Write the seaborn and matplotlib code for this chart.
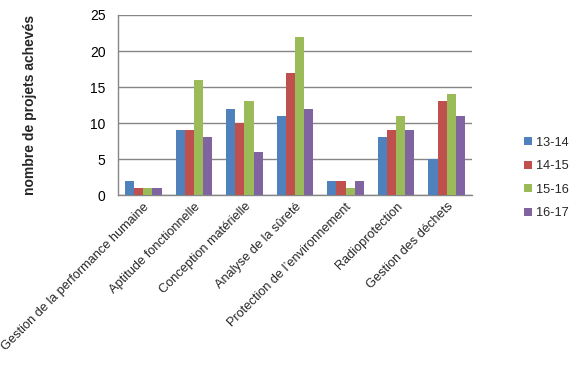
import matplotlib
matplotlib.use("Agg")
import matplotlib.pyplot as plt
import seaborn as sns
import pandas as pd
from matplotlib.patches import Patch
from matplotlib.ticker import FixedLocator

categories = ["Gestion de la performance humaine", "Aptitude fonctionnelle",
              "Conception matérielle", "Analyse de la sûreté",
              "Protection de l’environnement", "Radioprotection", "Gestion des déchets"]
series = ["13-14", "14-15", "15-16", "16-17"]
v_13_14 = [2, 9, 12, 11, 2, 8, 5]
v_14_15 = [1, 9, 10, 17, 2, 9, 13]
v_15_16 = [1, 16, 13, 22, 1, 11, 14]
v_16_17 = [1, 8, 6, 12, 2, 9, 11]
yticks = [0, 5, 10, 15, 20, 25]
ylabel = "nombre de projets achevés"

colors = ["#4F81BD", "#C0504D", "#9BBB59", "#8064A2"]

rows = []
for s, vals in zip(series, [v_13_14, v_14_15, v_15_16, v_16_17]):
    for c, v in zip(categories, vals):
        rows.append({"cat": c, "serie": s, "val": v})
df = pd.DataFrame(rows)

sns.set_theme(style="white")
plt.rcParams['font.family'] = ['Liberation Sans', 'DejaVu Sans']

fig = plt.figure(figsize=(5.88, 3.91), dpi=100)
ax = fig.add_axes([0.2007, 0.501, 0.602, 0.4607])
sns.barplot(data=df, x="cat", y="val", hue="serie", palette=colors, ax=ax,
            width=0.72, gap=0, saturation=1, legend=False, errorbar=None,
            linewidth=0, zorder=3)

ax.set_ylim(0, 25)
ax.set_xlim(-0.5, len(categories) - 0.5)
ax.set_yticks(yticks)
ax.yaxis.grid(True, color="#868686", linewidth=1, zorder=0)
ax.set_axisbelow(True)
for s in ["top", "right"]:
    ax.spines[s].set_visible(False)
for s in ["left", "bottom"]:
    ax.spines[s].set_color("#868686")
    ax.spines[s].set_linewidth(1)

ax.tick_params(axis="y", length=0, labelsize=10, colors="black", pad=9)
ax.tick_params(axis="x", which="major", length=0, labelsize=9.2, pad=4)
ax.xaxis.set_minor_locator(FixedLocator([i - 0.5 for i in range(len(categories) + 1)]))
ax.tick_params(axis="x", which="minor", length=4, color="#868686", width=1, direction="out")
ax.set_xticks(range(len(categories)))
ax.set_xticklabels(categories, rotation=45, ha="right", rotation_mode="anchor")
ax.set_xlabel("")
ax.set_ylabel(ylabel, fontsize=10, fontweight="bold", labelpad=38)

handles = [Patch(facecolor=c, edgecolor="none") for c in colors]
fig.legend(handles, series, loc="center left", bbox_to_anchor=(0.872, 0.545),
           frameon=False, fontsize=9.2, handlelength=0.6, handleheight=0.6,
           handletextpad=0.35, labelspacing=0.9)

fig.savefig("out.png", dpi=100)
